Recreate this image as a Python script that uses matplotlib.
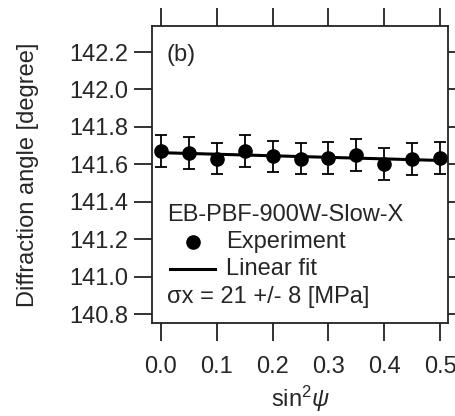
import matplotlib
matplotlib.use("Agg")
import matplotlib.pyplot as plt
import numpy as np

plt.rcParams['font.family'] = ['Liberation Sans', 'DejaVu Sans']
plt.rcParams['mathtext.fontset'] = 'custom'
plt.rcParams['mathtext.rm'] = 'Liberation Sans'
plt.rcParams['mathtext.it'] = 'Liberation Sans:italic'

sin2psi = [0.0, 0.05, 0.10, 0.15, 0.20, 0.25, 0.30, 0.35, 0.40, 0.45, 0.50]
angle = [141.672, 141.662, 141.630, 141.670, 141.642, 141.630, 141.634, 141.651, 141.602, 141.629, 141.633]
err = [0.086, 0.085, 0.083, 0.085, 0.085, 0.084, 0.085, 0.085, 0.085, 0.085, 0.084]
xticks = [0.0, 0.1, 0.2, 0.3, 0.4, 0.5]
yticks = [140.8, 141.0, 141.2, 141.4, 141.6, 141.8, 142.0, 142.2]

FS = 17
TXT = '#262626'

fig = plt.figure(figsize=(4.56, 4.16), dpi=100)
ax = fig.add_axes([152/456, 1-323/416, (448-152)/456, (323-26)/416])

x = np.array(sin2psi)
y = np.array(angle)
slope, inter = np.polyfit(x, y, 1)
xf = np.array([x.min(), x.max()])
ax.plot(xf, inter + slope*xf, color='black', lw=2.2, zorder=2)
ax.errorbar(x, y, yerr=err, fmt='o', color='black', ms=9.5, ecolor='black',
            elinewidth=1.3, capsize=4.5, capthick=1.3, zorder=3)

ax.set_xlim(-0.016, 0.514)
ax.set_ylim(140.752, 142.339)
ax.set_xticks(xticks)
ax.set_xticklabels([f"{v:.1f}" for v in xticks])
ax.set_yticks(yticks)
ax.set_yticklabels([f"{v:.1f}" for v in yticks])

for s in ax.spines.values():
    s.set_linewidth(1.3)
    s.set_color('#222222')
ax.tick_params(axis='both', direction='out', length=13, width=1.3, color='#222222',
               labelsize=FS, labelcolor=TXT, top=True, right=True)
ax.tick_params(axis='x', pad=11)
ax.tick_params(axis='y', pad=4)

ax.set_ylabel('Diffraction angle [degree]', fontsize=FS, color=TXT, labelpad=22)
ax.set_xlabel(r'sin$^{2}$$\psi$', fontsize=FS, color=TXT, labelpad=4)

def ax_frac(px, py):
    return ((px-152)/(448-152), (323-py)/(323-26))

bx, by = ax_frac(167, 55)
ax.text(bx, by, '(b)', transform=ax.transAxes, fontsize=FS, color=TXT, va='center')

tx, ty = ax_frac(167, 215)
ax.text(tx, ty, 'EB-PBF-900W-Slow-X', transform=ax.transAxes, fontsize=FS, color=TXT, va='center')
mx, my = ax_frac(193, 242)
ax.plot([mx], [my], 'o', color='black', ms=9.5, transform=ax.transAxes)
tx, ty = ax_frac(226, 242)
ax.text(tx, ty, 'Experiment', transform=ax.transAxes, fontsize=FS, color=TXT, va='center')
l1, ly = ax_frac(170, 269)
l2, _ = ax_frac(215, 269)
ax.plot([l1, l2], [ly, ly], color='black', lw=2.2, transform=ax.transAxes)
tx, ty = ax_frac(226, 269)
ax.text(tx, ty, 'Linear fit', transform=ax.transAxes, fontsize=FS, color=TXT, va='center')
tx, ty = ax_frac(167, 297)
ax.text(tx, ty, 'σx = 21 +/- 8 [MPa]', transform=ax.transAxes, fontsize=FS, color=TXT, va='center')

fig.savefig('out.png', dpi=100)
